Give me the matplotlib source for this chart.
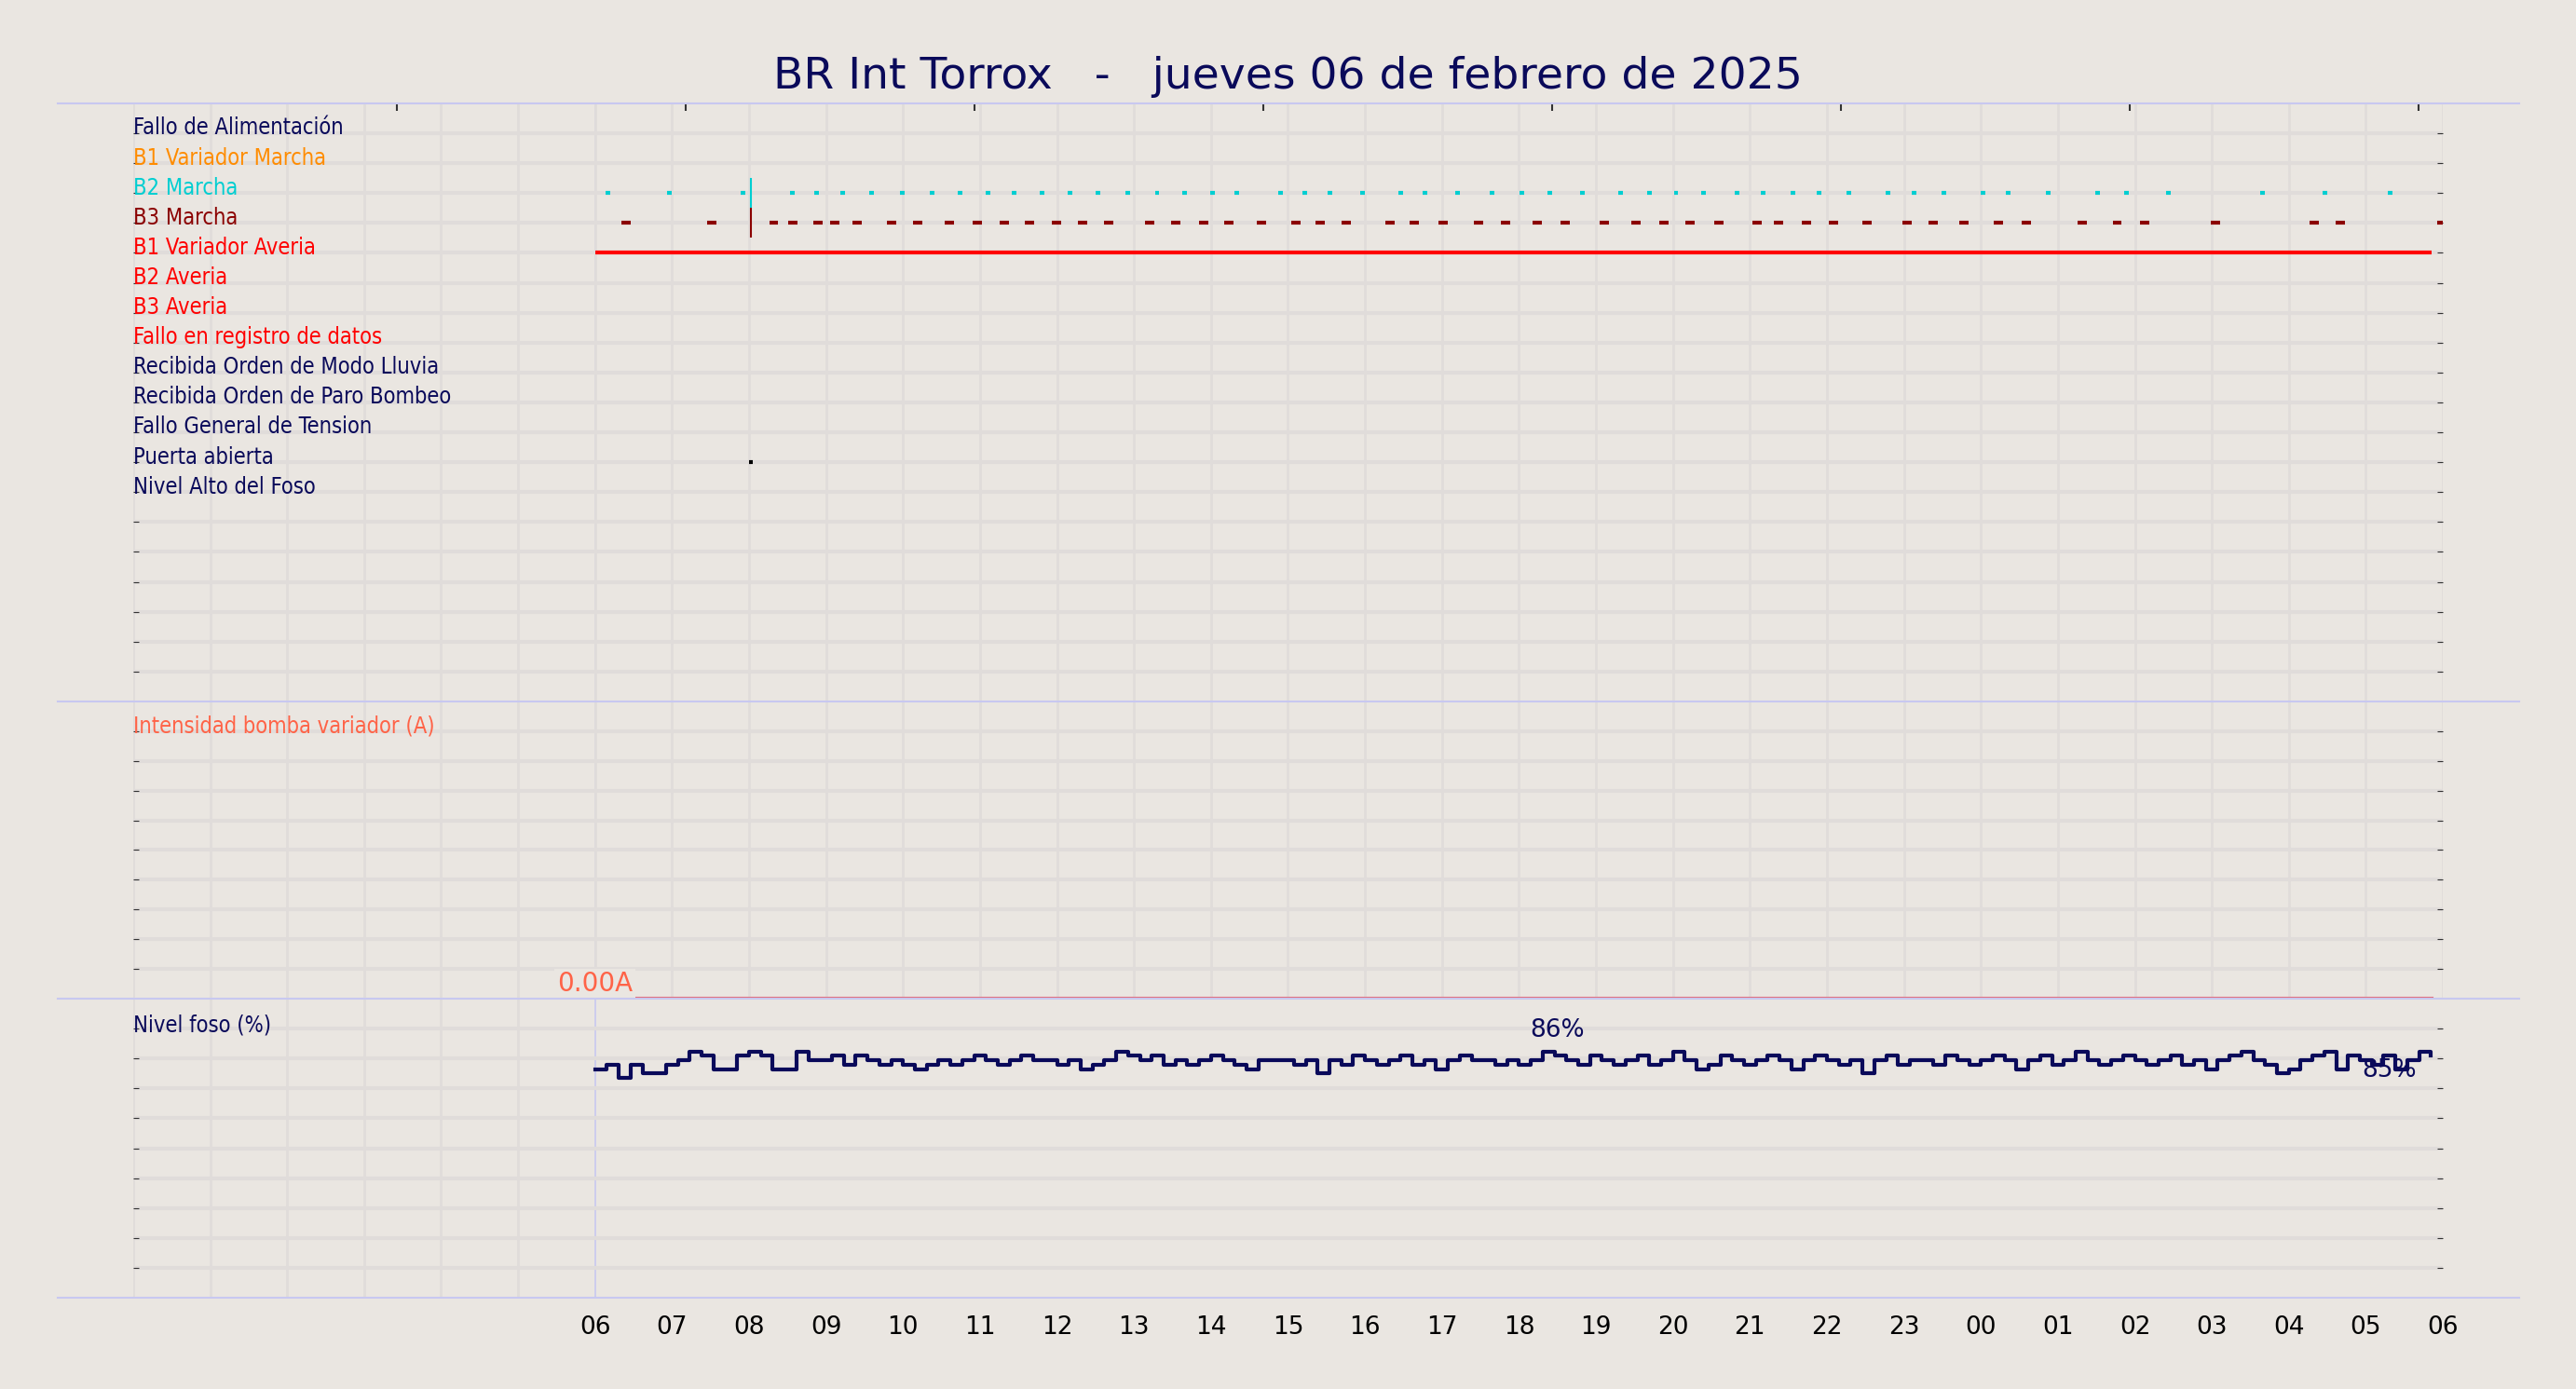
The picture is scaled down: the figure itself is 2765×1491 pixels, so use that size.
import matplotlib.pyplot as plt
import numpy as np

BG = "#EAE6E1"
GRID = "#E0DCDA"
NAVY = "#0A0A5A"
SEP = "#C8C8F0"

signal_labels = ["Fallo de Alimentación", "B1 Variador Marcha", "B2 Marcha", "B3 Marcha",
                 "B1 Variador Averia", "B2 Averia", "B3 Averia", "Fallo en registro de datos",
                 "Recibida Orden de Modo Lluvia", "Recibida Orden de Paro Bombeo",
                 "Fallo General de Tension", "Puerta abierta", "Nivel Alto del Foso"]
signal_colors = [NAVY, "#FF8C00", "#00CED1", "#8B0000", "#FF0000", "#FF0000", "#FF0000",
                 "#FF0000", NAVY, NAVY, NAVY, NAVY, NAVY]

# hours since 00:00 of the day before (06 = 6.0)
b2_starts = [6.14, 6.93, 7.89, 8.53, 8.85, 9.19, 9.56, 9.96, 10.35, 10.71, 11.07, 11.41, 11.78,
             12.14, 12.50, 12.89, 13.27, 13.63, 13.99, 14.31, 14.87, 15.19, 15.51, 15.94, 16.43,
             16.75, 17.17, 17.62, 18.01, 18.37, 18.79, 19.29, 19.67, 20.01, 20.37, 20.80, 21.14,
             21.53, 21.87, 22.25, 22.76, 23.10, 23.49, 24.00, 24.32, 24.85, 25.49, 25.86, 26.41,
             27.63, 28.44, 29.29]
b3_starts = [6.34, 7.45, 8.26, 8.51, 8.83, 9.05, 9.34, 9.79, 10.13, 10.54, 10.90, 11.26, 11.58,
             11.93, 12.27, 12.61, 13.14, 13.48, 13.84, 14.17, 14.59, 15.04, 15.36, 15.70, 16.26,
             16.58, 16.96, 17.41, 17.77, 18.18, 18.54, 19.05, 19.46, 19.82, 20.16, 20.54, 21.03,
             21.31, 21.67, 22.02, 22.46, 22.98, 23.32, 23.72, 24.17, 24.53, 25.26, 25.71, 26.07,
             26.99, 28.27, 28.61, 29.93]
b2_dur = 0.06
b3_dur = 0.12
averia_span = (6.0, 29.85)
puerta_span = (8.0, 8.05)
spike_hour = 8.02

# level every 10 minutes from 06:00
level = [84, 84.5, 83, 84.5, 83.5, 83.5, 84.5, 85, 86, 85.5, 84, 84, 85.5, 86, 85.5, 84, 84,
         86, 85, 85, 85.5, 84.5, 85.5, 85, 84.5, 85, 84.5, 84, 84.5, 85, 84.5, 85, 85.5, 85,
         84.5, 85, 85.5, 85, 85, 84.5, 85, 84, 84.5, 85, 86, 85.5, 85, 85.5, 84.5, 85, 84.5,
         85, 85.5, 85, 84.5, 84, 85, 85, 85, 84.5, 85, 83.5, 85, 84.5, 85.5, 85, 84.5, 85,
         85.5, 84.5, 85, 84, 85, 85.5, 85, 85, 84.5, 85, 84.5, 85, 86, 85.5, 85, 84.5, 85.5,
         85, 84.5, 85, 85.5, 84.5, 85, 86, 85, 84, 84.5, 85.5, 85, 84.5, 85, 85.5, 85, 84,
         85, 85.5, 85, 84.5, 85, 83.5, 85, 85.5, 84.5, 85, 85, 84.5, 85.5, 85, 84.5, 85,
         85.5, 85, 84, 85, 85.5, 84.5, 85, 86, 85, 84.5, 85, 85.5, 85, 84.5, 85, 85.5, 84.5,
         85, 84, 85, 85.5, 86, 85, 84.5, 83.5, 84, 85, 85.5, 86, 84, 85.5, 85, 84.5, 85.5,
         84, 85, 86, 85.5]
level_hours = 6.0 + np.arange(len(level)) * (24.0 / len(level))
intensidad = [0.0, 0.0]
int_hours = [6.5, 29.85]

hour_labels = ["06", "07", "08", "09", "10", "11", "12", "13", "14", "15", "16", "17", "18",
               "19", "20", "21", "22", "23", "00", "01", "02", "03", "04", "05", "06"]

fig = plt.figure(figsize=(27.65, 14.91), dpi=100, facecolor=BG)
L, W = 0.0517, 0.8966
ax1 = fig.add_axes([L, 0.495, W, 0.4306])
ax2 = fig.add_axes([L, 0.281, W, 0.214])
ax3 = fig.add_axes([L, 0.0657, W, 0.2153])

for ax in (ax1, ax2, ax3):
    ax.set_facecolor(BG)
    ax.set_xlim(0, 30)
    for s in ax.spines.values():
        s.set_visible(False)
    ax.set_xticks(np.arange(0, 31), minor=True)
    ax.grid(which="minor", axis="x", color=GRID, lw=2)
    ax.set_xticks([])
    ax.tick_params(axis="x", which="minor", length=0)
    ax.tick_params(axis="y", which="both", right=True, left=True, length=4,
                   color="#333333", labelleft=False, direction="in")
    ax.axvline(6, color=SEP, lw=1.2, zorder=1)

ax1.set_ylim(20, 0)
ax1.set_yticks(np.arange(1, 20))
ax1.grid(axis="y", color=GRID, lw=3)
for i, (lab, col) in enumerate(zip(signal_labels, signal_colors)):
    ax1.text(0, i + 1.2, lab, color=col, fontsize=17, va="bottom", ha="left",
             fontstretch="condensed")
for h in b2_starts:
    ax1.hlines(3, h, h + b2_dur, color="#00CED1", lw=3)
for h in b3_starts:
    ax1.hlines(4, h, h + b3_dur, color="#8B0000", lw=3)
ax1.vlines(spike_hour, 2.5, 3.5, color="#00CED1", lw=1.5)
ax1.vlines(spike_hour, 3.5, 4.5, color="#8B0000", lw=1.5)
ax1.hlines(5, *averia_span, color="#FF0000", lw=3)
ax1.hlines(12, *puerta_span, color="#000000", lw=3)
for h in np.arange(3.43, 30, 3.75):
    ax1.vlines(h, 0, 0.25, color="#333333", lw=1.5)

ax2.set_ylim(0, 10)
ax2.set_yticks(np.arange(1, 10))
ax2.grid(axis="y", color=GRID, lw=3)
ax2.text(0, 8.8, "Intensidad bomba variador (A)", color="#FF6347", fontsize=17,
         va="bottom", fontstretch="condensed")
ax2.plot(int_hours, intensidad, color="#E07080", lw=3, zorder=3, clip_on=False)
ax2.text(6.0, 0.05, "0.00A", color="#FF6347", fontsize=20, ha="center", va="bottom",
         bbox=dict(facecolor=BG, edgecolor="none", pad=2))
ax2.text(29.3, -1.3, "0.00A", color="#FF6347", fontsize=20, ha="center", va="bottom")

ax3.set_ylim(58, 92)
ax3.set_yticks(np.linspace(58 + 3.4, 92 - 3.4, 9))
ax3.grid(axis="y", color=GRID, lw=3)
ax3.text(0, 87.7, "Nivel foso (%)", color=NAVY, fontsize=17, va="bottom",
         fontstretch="condensed")
ax3.step(level_hours, level, where="post", color=NAVY, lw=3, zorder=3)
ax3.text(18.5, 87, "86%", color=NAVY, fontsize=19, ha="center", va="bottom")
ax3.text(29.3, 82.5, "85%", color=NAVY, fontsize=19, ha="center", va="bottom")
ax3.set_xticks(np.arange(6, 31))
ax3.set_xticklabels(hour_labels, fontsize=19)
ax3.tick_params(axis="x", length=0, pad=14)

for yf in [1 - 111 / 1491, 1 - 753 / 1491, 1 - 1072 / 1491, 1 - 1393 / 1491]:
    fig.add_artist(plt.Line2D([0.0225, 0.978], [yf, yf], color=SEP, lw=1.5))

fig.text(0.5, 0.945, "BR Int Torrox   -   jueves 06 de febrero de 2025", color=NAVY,
         fontsize=34, ha="center", va="center")

fig.savefig("out.png", dpi=100, facecolor=BG)
